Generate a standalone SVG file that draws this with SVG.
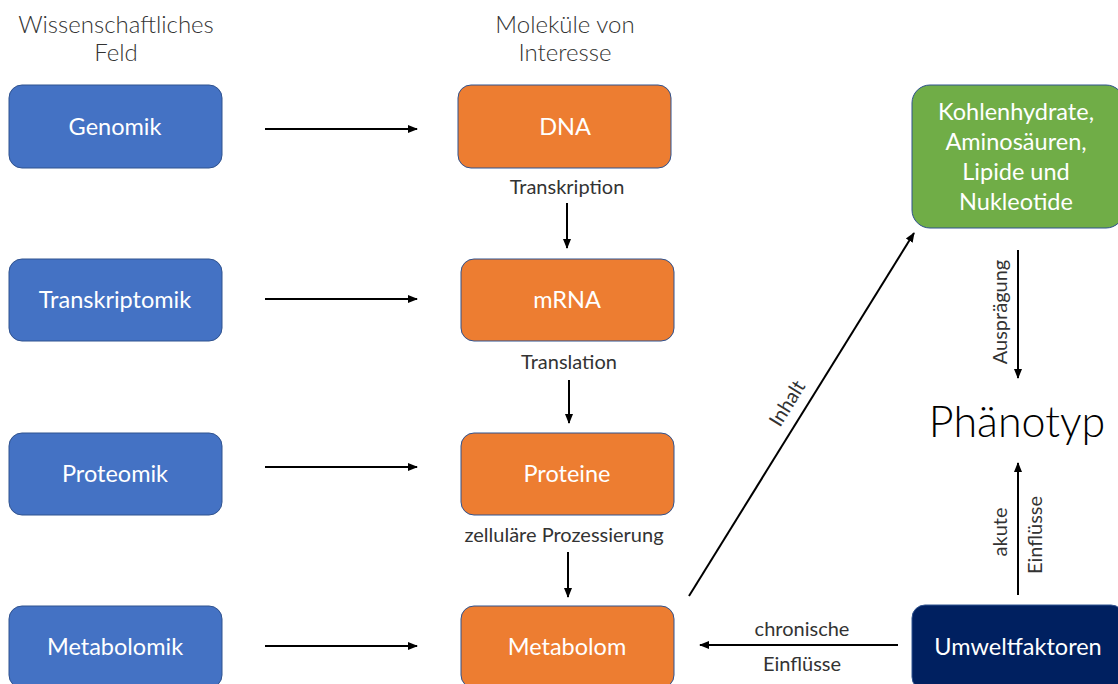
<svg xmlns="http://www.w3.org/2000/svg" width="1118" height="684" viewBox="0 0 1118 684">
<style>
.hdr{font-family:Lato,"Open Sans",sans-serif;font-weight:300;font-size:24px;fill:#333;text-anchor:middle}
.lbl{font-family:Lato,"Open Sans",sans-serif;font-size:20px;fill:#333;text-anchor:middle}
.bt{font-family:Lato,"Open Sans",sans-serif;font-size:23.5px;fill:#fff;text-anchor:middle}
.blue{fill:#4472C4;stroke:#2F528F;stroke-width:1}
.orange{fill:#ED7D31;stroke:#2F528F;stroke-width:1}
.green{fill:#70AD47;stroke:#2F528F;stroke-width:1}
.navy{fill:#002060;stroke:#2F528F;stroke-width:1}
.con line{stroke:#000;stroke-width:2;marker-end:url(#ah)}
</style>
<defs>
<marker id="ah" viewBox="0 0 10 10" refX="9" refY="5" markerWidth="5" markerHeight="5" orient="auto" markerUnits="strokeWidth">
<path d="M0,1 L10,5 L0,9 z" fill="#000"/>
</marker>
</defs>
<rect width="1118" height="684" fill="#fff"/>
<text class="hdr" x="116" y="33">Wissenschaftliches</text>
<text class="hdr" x="116" y="61">Feld</text>
<text class="hdr" x="565" y="33">Moleküle von</text>
<text class="hdr" x="565" y="61">Interesse</text>

<g id="genomik"><rect class="blue" x="9" y="85" width="213" height="83" rx="13"/><text class="bt" x="115" y="135">Genomik</text></g>
<g id="transkriptomik"><rect class="blue" x="9" y="259" width="213" height="82" rx="13"/><text class="bt" x="115" y="308">Transkriptomik</text></g>
<g id="proteomik"><rect class="blue" x="9" y="433" width="213" height="82" rx="13"/><text class="bt" x="115" y="482">Proteomik</text></g>
<g id="metabolomik"><rect class="blue" x="9" y="606" width="213" height="82" rx="13"/><text class="bt" x="115" y="655">Metabolomik</text></g>

<g id="dna"><rect class="orange" x="458" y="85" width="213" height="83" rx="13"/><text class="bt" x="565" y="135">DNA</text></g>
<g id="mrna"><rect class="orange" x="461" y="259" width="213" height="82" rx="13"/><text class="bt" x="567" y="308">mRNA</text></g>
<g id="proteine"><rect class="orange" x="461" y="433" width="213" height="82" rx="13"/><text class="bt" x="567" y="482">Proteine</text></g>
<g id="metabolom"><rect class="orange" x="461" y="606" width="213" height="82" rx="13"/><text class="bt" x="567" y="655">Metabolom</text></g>

<g id="naehrstoffe"><rect class="green" x="912" y="85" width="212" height="143" rx="18"/>
<text class="bt" x="1016" y="120">Kohlenhydrate,</text>
<text class="bt" x="1016" y="150">Aminosäuren,</text>
<text class="bt" x="1016" y="180">Lipide und</text>
<text class="bt" x="1016" y="210">Nukleotide</text></g>

<g id="phaenotyp"><text x="1017" y="437" font-family="Lato,'Open Sans',sans-serif" font-weight="300" font-size="43" fill="#000" text-anchor="middle">Phänotyp</text></g>

<g id="umweltfaktoren"><rect class="navy" x="912" y="605" width="212" height="85" rx="13"/><text class="bt" x="1018" y="655">Umweltfaktoren</text></g>

<g id="connectors" class="con">
<line x1="265" y1="129" x2="417" y2="129"/>
<line x1="265" y1="299" x2="417" y2="299"/>
<line x1="265" y1="467" x2="417" y2="467"/>
<line x1="265" y1="646" x2="417" y2="646"/>
<line x1="567" y1="203" x2="567" y2="248"/>
<line x1="569" y1="380" x2="569" y2="423"/>
<line x1="568" y1="552" x2="568" y2="597"/>
<line x1="689" y1="596" x2="914" y2="233"/>
<line x1="1018" y1="250" x2="1018" y2="378"/>
<line x1="1018" y1="595" x2="1018" y2="463"/>
<line x1="898" y1="645" x2="700" y2="645"/>
</g>

<g id="labels">
<text class="lbl" x="567" y="194">Transkription</text>
<text class="lbl" x="569" y="369">Translation</text>
<text class="lbl" x="564" y="542">zelluläre Prozessierung</text>
<text class="lbl" x="802" y="636">chronische</text>
<text class="lbl" x="802" y="671">Einflüsse</text>
<text class="lbl" transform="translate(793,407) rotate(-58.2)" x="0" y="0">Inhalt</text>
<text class="lbl" transform="translate(1007,312) rotate(-90)" x="0" y="0">Ausprägung</text>
<text class="lbl" transform="translate(1007,532) rotate(-90)" x="0" y="0">akute</text>
<text class="lbl" transform="translate(1042,535) rotate(-90)" x="0" y="0">Einflüsse</text>
</g>
</svg>
